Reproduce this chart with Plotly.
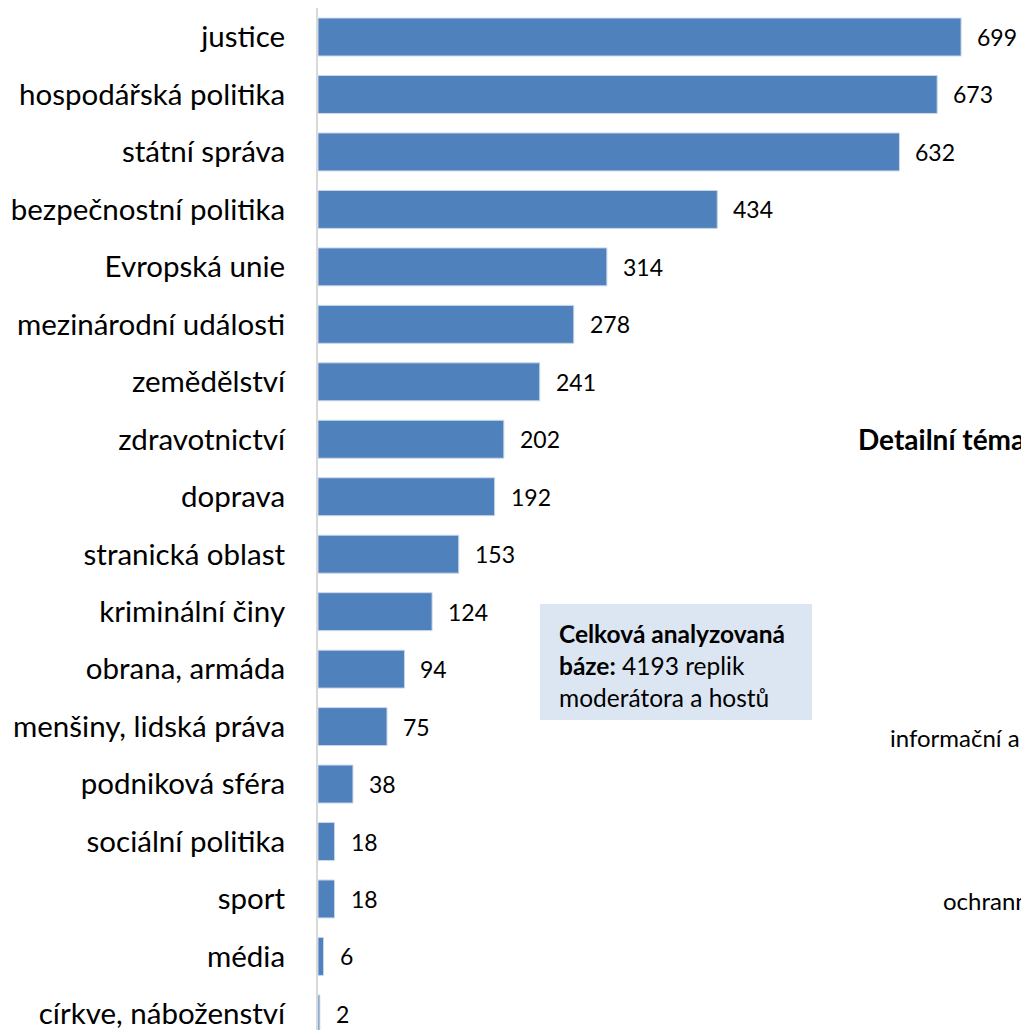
import plotly.graph_objects as go

categories = ["justice", "hospodářská politika", "státní správa", "bezpečnostní politika",
              "Evropská unie", "mezinárodní události", "zemědělství", "zdravotnictví",
              "doprava", "stranická oblast", "kriminální činy", "obrana, armáda",
              "menšiny, lidská práva", "podniková sféra", "sociální politika", "sport",
              "média", "církve, náboženství"]
values = [699, 673, 632, 434, 314, 278, 241, 202, 192, 153, 124, 94, 75, 38, 18, 18, 6, 2]

W, H = 1021, 1030
L, T = 318, 8


def px(x):
    return (x - L) / (W - L)


def py(y):
    return 1 - (y - T) / (H - T)


fig = go.Figure()
fig.add_trace(go.Bar(
    y=categories, x=values, orientation="h",
    marker=dict(color="#4f81bd", line=dict(color="#c9d6ea", width=1)),
    width=0.66, hoverinfo="skip",
))

for c, v in zip(categories, values):
    fig.add_annotation(x=v, y=c, text=str(v), showarrow=False, xanchor="left",
                       xshift=14, font=dict(family="Lato", size=23, color="#000000"))

# info box
fig.add_shape(type="rect", xref="paper", yref="paper",
              x0=px(540), x1=px(812), y0=py(720), y1=py(604),
              fillcolor="#dce6f2", line=dict(width=0), layer="above")
fig.add_annotation(xref="paper", yref="paper", x=px(557), y=py(665),
                   xanchor="left", yanchor="middle", align="left", showarrow=False,
                   text="<b>Celková analyzovaná</b><br><b>báze:</b> 4193 replik<br>moderátora a hostů",
                   font=dict(family="Lato", size=24.5, color="#000000"))

# fragments of neighbouring chart (clipped at the right edge)
fig.add_annotation(xref="paper", yref="paper", x=px(856), y=py(439),
                   xanchor="left", yanchor="middle", showarrow=False,
                   text="<b>Detailní témata</b>", font=dict(family="Lato", size=28, color="#000000"))
fig.add_annotation(xref="paper", yref="paper", x=px(888), y=py(737),
                   xanchor="left", yanchor="middle", showarrow=False,
                   text="informační a komunikační", font=dict(family="Lato", size=24, color="#000000"))
fig.add_annotation(xref="paper", yref="paper", x=px(941), y=py(900),
                   xanchor="left", yanchor="middle", showarrow=False,
                   text="ochranné", font=dict(family="Lato", size=24, color="#000000"))

fig.update_layout(
    width=W, height=H,
    margin=dict(l=L, r=0, t=T, b=0),
    paper_bgcolor="white", plot_bgcolor="white",
    showlegend=False,
    xaxis=dict(range=[0, (W - L) / 0.92], visible=False, fixedrange=True),
    yaxis=dict(range=[17.28, -0.505], showgrid=False, zeroline=False,
               showline=True, linecolor="#d9d9d9", linewidth=2,
               ticks="", ticklabelstandoff=25,
               tickfont=dict(family="Lato", size=29.5, color="#000000")),
)

fig.write_html("out.html", config={"displayModeBar": False},
               post_script="document.body.style.margin='0';document.body.style.overflow='hidden';"
                           "document.documentElement.style.overflow='hidden';")
